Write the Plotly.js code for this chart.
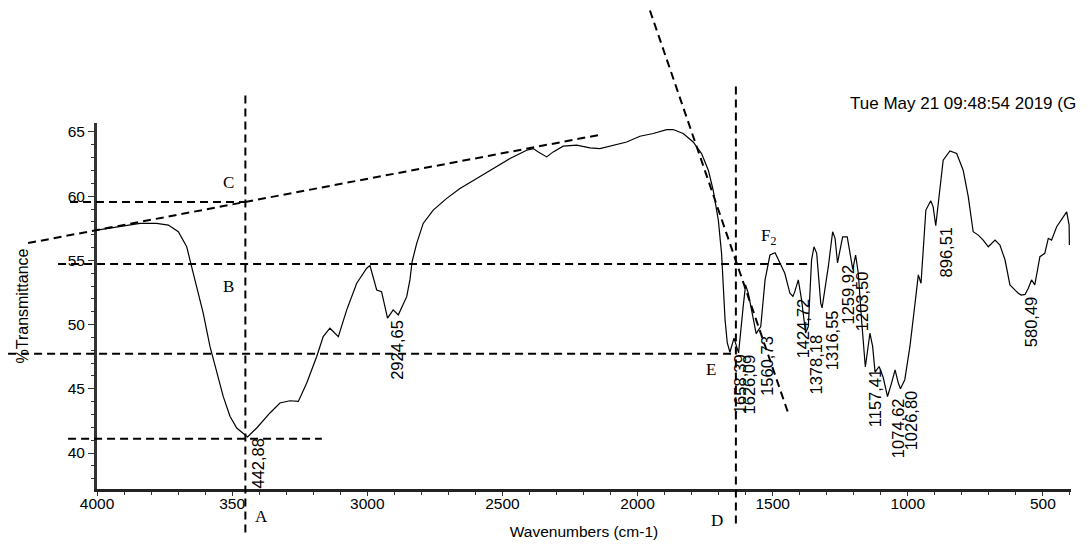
<!DOCTYPE html>
<html>
<head>
<meta charset="utf-8">
<script src="https://cdn.plot.ly/plotly-3.0.1.min.js"></script>
<style>
  html, body { margin: 0; padding: 0; background: #fff; }
  #chart { width: 1088px; height: 544px; }
</style>
</head>
<body>
<div id="chart"></div>
<script>
// ---- Spectrum (wavenumber cm-1, %Transmittance) ----
const wavenumbers = [4000, 3903, 3841, 3779, 3736, 3699, 3668, 3656, 3631, 3607, 3582, 3557, 3533, 3508, 3483, 3443, 3409, 3360, 3323, 3286, 3255, 3224, 3187, 3163, 3138, 3107, 3076, 3039, 3002, 2990, 2965, 2947, 2925, 2904, 2885, 2854, 2842, 2834, 2817, 2793, 2756, 2706, 2657, 2595, 2534, 2472, 2410, 2386, 2367, 2336, 2312, 2275, 2225, 2176, 2139, 2090, 2040, 1991, 1942, 1892, 1868, 1831, 1794, 1763, 1738, 1720, 1701, 1689, 1683, 1676, 1668, 1658, 1643, 1626, 1609, 1600, 1590, 1572, 1561, 1544, 1528, 1510, 1491, 1455, 1436, 1425, 1418, 1405, 1393, 1378, 1368, 1356, 1347, 1337, 1322, 1317, 1294, 1278, 1269, 1260, 1241, 1224, 1214, 1203.5, 1193, 1183, 1171, 1157, 1140, 1130, 1121, 1106, 1091, 1075, 1060, 1047, 1035, 1027, 1011, 992, 973, 961, 951, 943, 933, 915, 906, 896.5, 883, 869, 844, 819, 795, 776, 758, 739, 721, 702, 677, 659, 640, 622, 591, 580, 566, 554, 542, 530, 511, 493, 480, 468, 449, 431, 412, 403, 402];
const transmittance = [57.36, 57.67, 57.88, 57.88, 57.75, 57.23, 56.06, 55.03, 52.96, 50.89, 48.3, 46.23, 44.41, 42.86, 41.95, 41.25, 41.95, 43.12, 43.9, 44.07, 44.02, 45.45, 47.52, 49.07, 49.72, 49.07, 51.15, 53.22, 54.39, 54.6, 52.7, 52.57, 50.5, 51.15, 50.76, 52.18, 53.5, 54.9, 56.33, 57.88, 58.92, 59.83, 60.6, 61.38, 62.15, 62.93, 63.58, 63.71, 63.45, 63.06, 63.45, 63.9, 63.97, 63.76, 63.71, 63.97, 64.22, 64.67, 64.88, 65.19, 65.19, 64.88, 64.22, 63.32, 62.02, 60.47, 58.14, 55.55, 52.96, 50.37, 48.6, 47.85, 48.95, 47.8, 51.4, 53.09, 52.44, 50.63, 49.3, 49.85, 53.48, 55.42, 55.6, 54.0, 52.44, 52.2, 52.57, 53.48, 51.93, 49.35, 49.85, 55.03, 56.06, 55.55, 51.67, 51.3, 54.51, 57.23, 56.72, 54.8, 56.84, 56.84, 55.55, 54.3, 55.42, 54.0, 50.37, 46.7, 49.33, 48.3, 46.3, 46.74, 45.9, 44.4, 45.45, 46.48, 45.45, 45.0, 45.71, 48.3, 51.67, 53.87, 53.22, 55.55, 58.92, 59.64, 59.17, 57.7, 60.21, 62.8, 63.52, 63.32, 62.02, 59.95, 57.23, 56.97, 56.58, 56.06, 56.58, 56.19, 55.03, 53.09, 52.44, 52.3, 52.35, 52.83, 53.48, 53.09, 55.29, 55.55, 56.72, 56.58, 57.62, 58.14, 58.78, 57.75, 56.2];

// ---- Peak labels ----
const peakWavenumbers = [3442.88, 2924.65, 1658.39, 1626.09, 1560.73, 1424.72, 1378.18, 1316.55, 1259.92, 1203.50, 1157.41, 1074.62, 1026.80, 896.51, 580.49];
const peakTransmittance = [41.25, 50.5, 47.85, 47.8, 49.3, 52.2, 49.35, 51.3, 54.8, 54.3, 46.7, 44.4, 45.0, 57.7, 52.3];
const peakLabels = ["442,88", "2924,65", "1658,39", "1626,09", "1560,73", "1424,72", "1378,18", "1316,55", "1259,92", "1203,50", "1157,41", "1074,62", "1026,80", "896,51", "580,49"];

// ---- Axis ticks ----
const xTickVals = [4000, 3500, 3000, 2500, 2000, 1500, 1000, 500];
const xTickText = ["4000", "350", "3000", "2500", "2000", "1500", "1000", "500"];
const yTickVals = [40, 45, 50, 55, 60, 65];

// ---- Construction (baseline) lines, in data units: [wn0, T0, wn1, T1] ----
const lineC = [4100, 59.54, 3452, 59.54];
const lineA = [3451, 67.85, 3451, 33.8];
const lineBaseline = [4255, 56.35, 2132, 64.81];
const lineB = [4144, 54.72, 1355, 54.72];
const lineE = [4329, 47.73, 1640, 47.73];
const lineMin = [4107, 41.12, 3168, 41.12];
const lineD = [1636, 68.55, 1636, 34.44];
const lineTangent = [1954, 74.46, 1443, 43.14];
const guideLines = [lineC, lineA, lineBaseline, lineB, lineE, lineMin, lineD, lineTangent];

// ---- Point letters (data units) ----
const letterText = ["C", "B", "A", "D", "E", "F<sub>2</sub>"];
const letterWn = [3515, 3515, 3390, 1706, 1728, 1517];
const letterT = [61.09, 52.93, 35.06, 34.75, 46.48, 56.82];

const timestamp = "Tue May 21 09:48:54 2019 (G";

// ---- Axis ranges and helpers ----
const xRange = [4000, 396];
const yRange = [37.2, 65.7];
const toPx = wn => (wn - xRange[0]) / (xRange[1] - xRange[0]);
const toPy = t => (t - yRange[0]) / (yRange[1] - yRange[0]);

const sansFont = "Liberation Sans, Arial, sans-serif";
const serifFont = "Liberation Serif, Times New Roman, serif";

const shapes = guideLines.map(l => ({
  type: "line", xref: "paper", yref: "paper",
  x0: toPx(l[0]), y0: toPy(l[1]), x1: toPx(l[2]), y1: toPy(l[3]),
  line: { color: "#000", width: 2, dash: "8px,5px" }
}));

const annotations = [];
peakLabels.forEach((lab, i) => {
  annotations.push({
    x: peakWavenumbers[i], y: peakTransmittance[i], xref: "x", yref: "y",
    text: lab, showarrow: false, textangle: -90,
    xanchor: "center", yanchor: "top", xshift: 10,
    font: { family: sansFont, size: 16.5, color: "#000" }
  });
});
letterText.forEach((t, i) => {
  annotations.push({
    x: toPx(letterWn[i]), y: toPy(letterT[i]), xref: "paper", yref: "paper",
    text: t, showarrow: false, xanchor: "center", yanchor: "middle",
    font: { family: serifFont, size: 17, color: "#000" }
  });
});
annotations.push({
  x: 0.771, y: 1.0546, xref: "paper", yref: "paper",
  text: timestamp, showarrow: false, xanchor: "left", yanchor: "middle",
  font: { family: sansFont, size: 17, color: "#000" }
});

const trace = {
  x: wavenumbers, y: transmittance, type: "scatter", mode: "lines",
  line: { color: "#000", width: 1.2 }, hoverinfo: "skip"
};

const layout = {
  width: 1088, height: 544,
  margin: { l: 97, r: 17, t: 123, b: 55 },
  paper_bgcolor: "#fff", plot_bgcolor: "#fff",
  showlegend: false,
  font: { family: sansFont, color: "#000" },
  xaxis: {
    range: xRange, autorange: false,
    tickmode: "array", tickvals: xTickVals, ticktext: xTickText,
    ticks: "outside", ticklen: 4, tickwidth: 1, tickcolor: "#333",
    ticklabelstandoff: -6,
    showgrid: false, zeroline: false,
    showline: true, linecolor: "#222", linewidth: 3,
    minor: { tickmode: "linear", tick0: 0, dtick: 100, ticks: "outside", ticklen: 3, tickcolor: "#333", showgrid: false },
    tickfont: { family: sansFont, size: 15.5, color: "#000" },
    title: { text: "Wavenumbers (cm-1)", font: { family: sansFont, size: 15.5, color: "#000" }, standoff: 16 }
  },
  yaxis: {
    range: yRange, autorange: false,
    tickmode: "array", tickvals: yTickVals,
    ticks: "outside", ticklen: 6, tickwidth: 1, tickcolor: "#333",
    showgrid: false, zeroline: false,
    showline: true, linecolor: "#333", linewidth: 3,
    minor: { tickmode: "linear", tick0: 0, dtick: 1, ticks: "outside", ticklen: 3, tickcolor: "#333", showgrid: false },
    tickfont: { family: sansFont, size: 15.5, color: "#000" },
    title: { text: "%Transmittance", font: { family: sansFont, size: 16, color: "#000" }, standoff: 36 }
  },
  shapes: shapes,
  annotations: annotations
};

Plotly.newPlot("chart", [trace], layout, { displayModeBar: false, staticPlot: true });
</script>
</body>
</html>
